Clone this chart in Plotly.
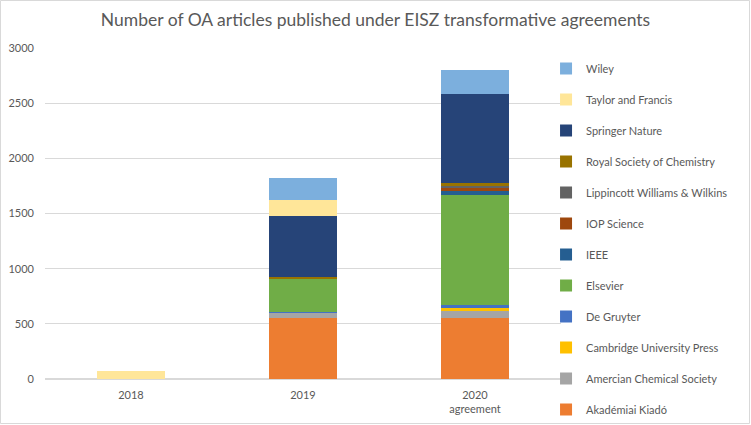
import plotly.graph_objects as go

years = ["2018", "2019", "2020<br>agreement"]
publishers = ["Akadémiai Kiadó", "Amercian Chemical Society", "Cambridge University Press",
              "De Gruyter", "Elsevier", "IEEE", "IOP Science", "Lippincott Williams & Wilkins",
              "Royal Society of Chemistry", "Springer Nature", "Taylor and Francis", "Wiley"]
values = {
    "Akadémiai Kiadó":               [0, 557, 557],
    "Amercian Chemical Society":     [0, 43, 61],
    "Cambridge University Press":    [0, 0, 27],
    "De Gruyter":                    [0, 10, 27],
    "Elsevier":                      [0, 300, 1000],
    "IEEE":                          [0, 0, 30],
    "IOP Science":                   [0, 0, 36],
    "Lippincott Williams & Wilkins": [0, 0, 15],
    "Royal Society of Chemistry":    [0, 18, 21],
    "Springer Nature":               [0, 545, 806],
    "Taylor and Francis":            [75, 145, 0],
    "Wiley":                         [0, 200, 218],
}
colors = ["#ED7D31", "#A5A5A5", "#FFC000", "#4472C4", "#70AD47", "#255E91",
          "#9E480E", "#636363", "#997300", "#264478", "#FFE699", "#7CAFDD"]

fig = go.Figure()
n = len(publishers)
for i, (p, c) in enumerate(zip(publishers, colors)):
    fig.add_trace(go.Bar(x=years, y=values[p], name=p, marker_color=c,
                         marker_line_width=0, legendgroup=p, legendrank=n - i))

W, H = 751, 425
ml, mr, mt, mb = 45, 190, 48, 46
pw, ph = W - ml - mr, H - mt - mb

fig.update_layout(
    width=W, height=H, barmode="stack", bargap=0.6,
    margin=dict(l=ml, r=mr, t=mt, b=mb, autoexpand=False),
    paper_bgcolor="white", plot_bgcolor="white",
    font=dict(family="Lato, Open Sans, sans-serif", size=11, color="#595959"),
    title=dict(text="Number of OA articles published under EISZ transformative agreements",
               x=0.5, xref="container", xanchor="center",
               y=1 - 20 / H, yref="container", yanchor="middle",
               font=dict(size=17.5, color="#595959")),
    showlegend=True,
    legend=dict(traceorder="grouped", x=0.971, xanchor="left",
                y=1 - 54 / H, yref="container", yanchor="top",
                tracegroupgap=12, font=dict(size=11, color="#595959"),
                itemwidth=30, bgcolor="rgba(0,0,0,0)", maxheight=420),
    xaxis=dict(showgrid=False, showline=False, ticks="", tickfont=dict(size=11),
               automargin=False, ticklabelstandoff=8),
    yaxis=dict(range=[0, 3000], dtick=500, gridcolor="#D9D9D9", gridwidth=1,
               zeroline=True, zerolinecolor="#D9D9D9", showline=False, ticks="",
               ticklabelstandoff=10, automargin=False),
    shapes=[dict(type="rect", xref="paper", yref="paper",
                 x0=-(ml - 0.5) / pw, x1=1 + (mr - 1.5) / pw,
                 y0=-(mb - 1.5) / ph, y1=1 + (mt - 0.5) / ph,
                 line=dict(color="#D9D9D9", width=1), layer="below")],
)

fig.write_html("out.html", config={"displayModeBar": False},
               post_script="document.body.style.margin='0';document.body.style.overflow='hidden';")
